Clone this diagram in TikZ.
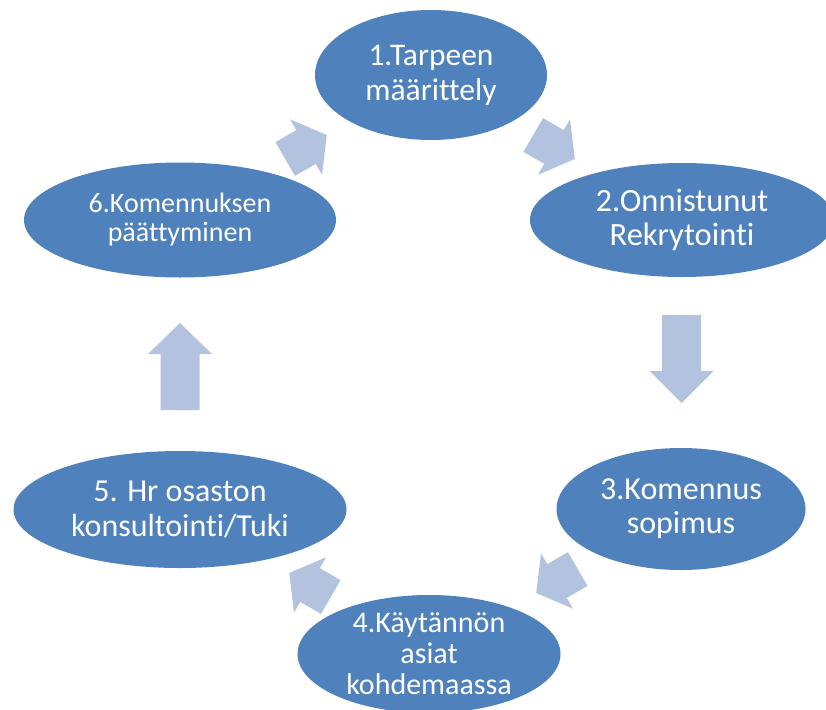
\documentclass[tikz,border=0pt]{standalone}
\usepackage{fontspec}
\setmainfont{Carlito}[RawFeature={-liga}]
\usetikzlibrary{shapes.geometric}
\definecolor{stageblue}{HTML}{4F81BD}
\definecolor{arrowblue}{HTML}{B3C3DF}
\tikzset{
  stage/.style={ellipse, fill=stageblue, draw=none, text=white, inner sep=0pt, align=center},
  pics/blockarrow/.style n args={2}{code={
    \fill[arrowblue] (-#1/2,-19.5) -- (#1/2-#2,-19.5) -- (#1/2-#2,-32) -- (#1/2,0)
      -- (#1/2-#2,32) -- (#1/2-#2,19.5) -- (-#1/2,19.5) -- cycle;}}
}
\begin{document}
\begin{tikzpicture}[x=1pt, y=-1pt]
\useasboundingbox (0,0) rectangle (826,709);
\clip (0,0) rectangle (826,709);
\node[stage, minimum width=232pt, minimum height=130pt, font=\fontsize{31.5}{35}\selectfont] (s1) at (431,75) {1.Tarpeen\\määrittely};
\node[stage, minimum width=304pt, minimum height=114pt, font=\fontsize{32.5}{34}\selectfont] (s2) at (682,220) {2.Onnistunut\\Rekrytointi};
\node[stage, minimum width=249pt, minimum height=122pt, font=\fontsize{32}{34}\selectfont] (s3) at (681,509) {3.Komennus\\sopimus};
\node[stage, minimum width=263pt, minimum height=118pt, font=\fontsize{30}{31}\selectfont] (s4) at (429,654) {4.Käytännön\\asiat\\kohdemaassa};
\node[stage, minimum width=333pt, minimum height=117pt, font=\fontsize{32}{35}\selectfont] (s5) at (180,509.5) {5. Hr osaston\\konsultointi/Tuki};
\node[stage, minimum width=312pt, minimum height=115pt, font=\fontsize{28}{29}\selectfont] (s6) at (180,220) {6.Komennuksen\\päättyminen};
\pic[rotate=30] (a1) at (306,147) {blockarrow={48}{24}};
\pic[rotate=-30] (a2) at (554,147) {blockarrow={48}{24}};
\pic[rotate=-90] (a3) at (681.5,359) {blockarrow={88}{32}};
\pic[rotate=210] (a4) at (557,581) {blockarrow={48}{24}};
\pic[rotate=150] (a5) at (310,585) {blockarrow={48}{24}};
\pic[rotate=90] (a6) at (180,366.5) {blockarrow={87}{31}};
\end{tikzpicture}
\end{document}
